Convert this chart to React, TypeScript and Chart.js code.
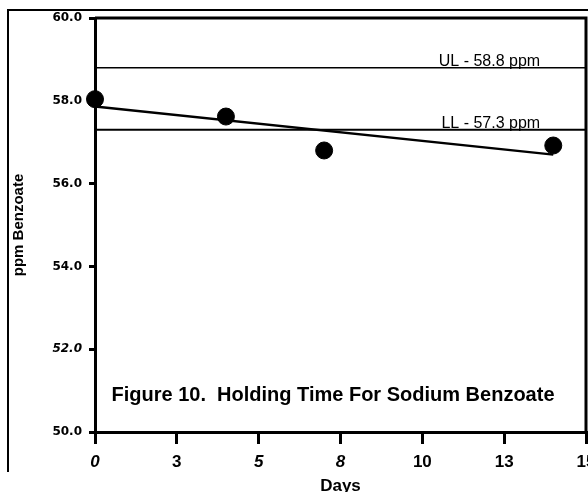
import React, { useEffect, useRef } from "react";
import { Chart, registerables } from "chart.js";

Chart.register(...registerables);

const days = [0, 4, 7, 14];
const benzoate = [58.04, 57.62, 56.8, 56.92];
const trendDays = [0, 14];
const trendValues = [57.86, 56.7];
const limitDays = [0, 15];
const upperLimit = 58.8;
const lowerLimit = 57.3;
const upperLabel = "UL - 58.8 ppm";
const lowerLabel = "LL - 57.3 ppm";
const xTickLabels = ["0", "3", "5", "8", "10", "13", "15"];
const xItalic = [true, false, true, true, false, false, false];
const yTickLabels = ["50.0", "52.0", "54.0", "56.0", "58.0", "60.0"];
const yItalic = [false, true, false, false, false, false];
const figureTitle = "Figure 10.  Holding Time For Sodium Benzoate";
const xTitle = "Days";
const yTitle = "ppm Benzoate";

const SANS = "'Liberation Sans', Arial, sans-serif";

const decorPlugin = {
  id: "decor",
  afterDraw(chart: any) {
    const { ctx, chartArea, scales } = chart;
    const x = scales.x;
    const y = scales.y;
    ctx.save();
    // outer frame
    ctx.strokeStyle = "#000";
    ctx.lineWidth = 2;
    ctx.beginPath();
    ctx.moveTo(8, 472);
    ctx.lineTo(8, 10);
    ctx.lineTo(588, 10);
    ctx.stroke();
    // plot box
    ctx.lineWidth = 3;
    ctx.beginPath();
    ctx.moveTo(chartArea.left, chartArea.top);
    ctx.lineTo(chartArea.right, chartArea.top);
    ctx.lineTo(chartArea.right, chartArea.bottom);
    ctx.stroke();
    // limit labels
    ctx.fillStyle = "#000";
    ctx.font = `16px ${SANS}`;
    ctx.textAlign = "right";
    ctx.textBaseline = "alphabetic";
    const lx = x.getPixelForValue(13.6);
    ctx.fillText(upperLabel, lx, y.getPixelForValue(upperLimit) - 2);
    ctx.fillText(lowerLabel, lx, y.getPixelForValue(lowerLimit) - 2);
    // figure title
    ctx.font = `bold 20px ${SANS}`;
    ctx.textAlign = "center";
    ctx.textBaseline = "middle";
    ctx.fillText(figureTitle, 333, y.getPixelForValue(50.88));
    ctx.restore();
  },
};

export default function App() {
  const ref = useRef<HTMLCanvasElement | null>(null);

  useEffect(() => {
    document.body.style.margin = "0";
    const canvas = ref.current!;
    const chart = new Chart(canvas, {
      type: "scatter",
      data: {
        datasets: [
          {
            label: "UL",
            type: "line",
            data: limitDays.map((d) => ({ x: d, y: upperLimit })),
            borderColor: "#000",
            borderWidth: 1.5,
            pointRadius: 0,
          },
          {
            label: "LL",
            type: "line",
            data: limitDays.map((d) => ({ x: d, y: lowerLimit })),
            borderColor: "#000",
            borderWidth: 2,
            pointRadius: 0,
          },
          {
            label: "Trend",
            type: "line",
            data: trendDays.map((d, i) => ({ x: d, y: trendValues[i] })),
            borderColor: "#000",
            borderWidth: 2.5,
            pointRadius: 0,
          },
          {
            label: "Benzoate",
            data: days.map((d, i) => ({ x: d, y: benzoate[i] })),
            backgroundColor: "#000",
            borderColor: "#000",
            pointRadius: 8.5,
          },
        ],
      },
      options: {
        responsive: false,
        animation: false,
        devicePixelRatio: 1,
        clip: false,
        layout: { autoPadding: false, padding: { top: 18, right: 2, left: 0, bottom: -4 } },
        plugins: {
          legend: { display: false },
          tooltip: { enabled: false },
        },
        scales: {
          x: {
            type: "linear",
            min: 0,
            max: 15,
            afterBuildTicks: (s: any) => {
              s.ticks = xTickLabels.map((_, i) => ({ value: i * 2.5 }));
            },
            afterFit: (s: any) => {
              s.height = 64;
              s.paddingLeft = 0;
              s.paddingRight = 0;
            },
            grid: {
              drawOnChartArea: false,
              drawTicks: true,
              tickLength: 12,
              color: "#000",
              lineWidth: 3,
            },
            border: { display: true, color: "#000", width: 3 },
            ticks: {
              color: "#000",
              padding: 8,
              maxRotation: 0,
              autoSkip: false,
              font: (c: any) => ({
                family: SANS,
                size: 17,
                weight: "bold",
                style: xItalic[c.index] ? "italic" : "normal",
              }),
              callback: (_v: any, i: number) => xTickLabels[i],
            },
            title: {
              display: true,
              text: xTitle,
              color: "#000",
              font: { family: SANS, size: 17, weight: "bold" },
              padding: { top: 0, bottom: -1 },
            },
          },
          y: {
            min: 50,
            max: 60,
            afterBuildTicks: (s: any) => {
              s.ticks = yTickLabels.map((_, i) => ({ value: 50 + i * 2 }));
            },
            afterFit: (s: any) => {
              s.width = 95;
              s.paddingTop = 0;
              s.paddingBottom = 0;
            },
            grid: {
              drawOnChartArea: false,
              drawTicks: true,
              tickLength: 6,
              color: "#000",
              lineWidth: 3,
            },
            border: { display: true, color: "#000", width: 3 },
            ticks: {
              color: "#000",
              padding: 7,
              autoSkip: false,
              font: (c: any) => ({
                family: "'DejaVu Sans', sans-serif",
                size: 12,
                weight: "bold",
                style: yItalic[c.index] ? "italic" : "normal",
              }),
              callback: (_v: any, i: number) => yTickLabels[i],
            },
            title: {
              display: true,
              text: yTitle,
              color: "#000",
              font: { family: SANS, size: 15, weight: "bold" },
              padding: { top: 10, bottom: 0 },
            },
          },
        },
      },
      plugins: [decorPlugin],
    } as any);
    return () => chart.destroy();
  }, []);

  return (
    <div style={{ width: 588, height: 492, position: "relative" }}>
      <canvas ref={ref} width={588} height={492} style={{ display: "block" }} />
    </div>
  );
}
